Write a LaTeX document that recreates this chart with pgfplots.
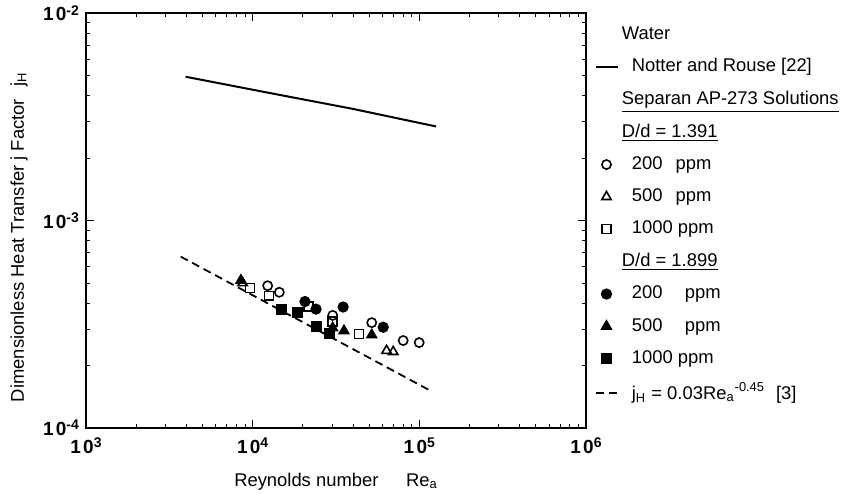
\documentclass[border=0pt]{standalone}
\usepackage{pgfplots}
\pgfplotsset{compat=1.18}
\usepackage{fontspec}
\setmainfont{Liberation Sans}
\newcommand{\tl}[2]{\textbf{1\kern0.12em0}\raisebox{0.55ex}{\scriptsize\textbf{#1#2}}}
\pgfplotsset{shortline legend/.style={legend image code/.code={\draw[##1] (0.12cm,0cm) -- (0.50cm,0cm);}}}
\newcommand{\li}{\hspace*{4.5pt}}
\newcommand{\hd}{\hspace*{-0.5pt}}
\begin{document}
\begin{tikzpicture}
\begin{axis}[
  at={(0,0)}, anchor=south west,
  scale only axis, width=250pt, height=207.5pt,
  xmode=log, ymode=log,
  xmin=1e3, xmax=1e6, ymin=1e-4, ymax=1e-2,
  axis line style={line width=0.7pt},
  tick style={black, line width=0.45pt},
  major tick length=4pt, minor tick length=2pt,
  tick align=inside,
  xtick={1e3,1e4,1e5,1e6},
  xticklabels={\tl{}{3},\tl{}{4},\tl{}{5},\tl{}{6}},
  minor xtick={2e3,3e3,4e3,5e3,6e3,7e3,8e3,9e3,2e4,3e4,4e4,5e4,6e4,7e4,8e4,9e4,2e5,3e5,4e5,5e5,6e5,7e5,8e5,9e5},
  ytick={1e-4,1e-3,1e-2},
  yticklabels={\tl{-}{4},\tl{-}{3},\tl{-}{2}},
  minor ytick={2e-4,3e-4,4e-4,5e-4,6e-4,7e-4,8e-4,9e-4,2e-3,3e-3,4e-3,5e-3,6e-3,7e-3,8e-3,9e-3},
  font=\fontsize{9.2}{11}\selectfont,
  xticklabel style={font=\fontsize{9.5}{11}\selectfont, yshift=-1.5pt},
  yticklabel style={font=\fontsize{9.5}{11}\selectfont},
  xlabel={Reynolds number\hspace{1.5em}Re\textsubscript{a}},
  xlabel style={at={(axis description cs:0.5,-0.130)}, anchor=center},
  ylabel={Dimensionless Heat Transfer j Factor\hspace{0.4em} j\textsubscript{H}},
  ylabel style={at={(axis description cs:-0.134,0.46)}, anchor=center, rotate=0},
  legend style={draw=none, fill=none, at={(axis description cs:0.994,0.988)}, anchor=north west,
    font=\fontsize{9.2}{11}\selectfont, row sep=4.2pt},
  legend cell align=left,
  every axis plot/.append style={line width=0.8pt},
]
\addlegendimage{empty legend}\addlegendentry{\hd Water}

\addplot[black, line width=1pt, no marks, shortline legend]
  coordinates {(3960,4.93e-3) (12000,4.15e-3) (40000,3.45e-3) (126000,2.84e-3)};
\addlegendentry{\li Notter and Rouse [22]}

\addlegendimage{empty legend}\addlegendentry{\hd\underline{Separan AP-273 Solutions}}
\addlegendimage{empty legend}\addlegendentry{\hd\underline{D/d = 1.391}}

\addplot[only marks, mark=o, mark size=2.3pt, black, mark options={line width=0.8pt}]
  coordinates {(12300,4.85e-4) (14450,4.51e-4) (30200,3.49e-4) (51800,3.22e-4) (80000,2.64e-4) (99800,2.58e-4)};
\addlegendentry{\li\makebox[2.1em][l]{200} ppm}

\addplot[only marks, mark=triangle, mark size=2.7pt, black, mark options={line width=0.8pt}]
  coordinates {(8710,5.0e-4) (63600,2.36e-4) (69700,2.33e-4)};
\addlegendentry{\li\makebox[2.1em][l]{500} ppm}

\addplot[only marks, mark=square, mark size=2.2pt, black, mark options={line width=0.8pt}]
  coordinates {(9640,4.73e-4) (12530,4.34e-4) (21580,3.85e-4) (30200,3.26e-4) (43450,2.84e-4)};
\addlegendentry{\li 1000 ppm}

\addlegendimage{empty legend}\addlegendentry{\hd\underline{D/d = 1.899}}

\addplot[only marks, mark=*, mark size=2.4pt, black]
  coordinates {(20600,4.07e-4) (24000,3.74e-4) (34900,3.83e-4) (60700,3.06e-4)};
\addlegendentry{\li\makebox[2.6em][l]{200} ppm}

\addplot[only marks, mark=triangle*, mark size=2.7pt, black]
  coordinates {(8500,5.15e-4) (30200,3.04e-4) (35300,2.94e-4) (51800,2.81e-4)};
\addlegendentry{\li\makebox[2.6em][l]{500} ppm}

\addplot[only marks, mark=square*, mark size=2.3pt, black]
  coordinates {(14940,3.71e-4) (18530,3.60e-4) (24220,3.08e-4) (28830,2.86e-4)};
\addlegendentry{\li 1000 ppm}

\addplot[black, line width=0.9pt, dash pattern=on 4pt off 2.5pt, no marks, shortline legend]
  coordinates {(3700,6.7e-4) (119000,1.5e-4)};
\addlegendentry{\li j\textsubscript{H} = 0.03Re\textsubscript{a}\textsuperscript{-0.45}\hspace{0.6em}[3]}
\end{axis}
\pgfresetboundingbox
\useasboundingbox (-43pt,-32.5pt) rectangle (380pt,214pt);
\end{tikzpicture}
\end{document}
